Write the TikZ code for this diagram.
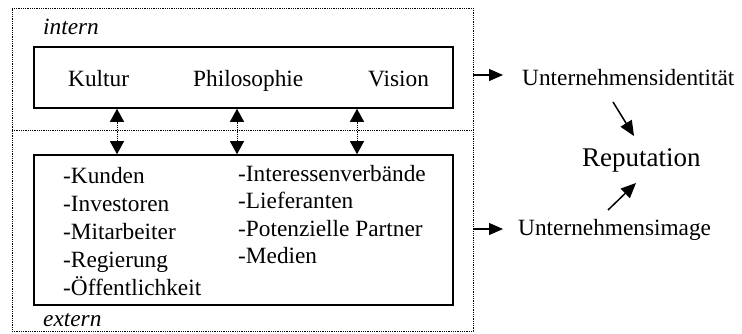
\documentclass[tikz,border=0pt]{standalone}
\usepackage{fontspec}
\setmainfont{Liberation Serif}
\usetikzlibrary{arrows.meta,calc}
\begin{document}
\begin{tikzpicture}[x=1pt,y=-1pt,
  txt/.style={anchor=base west,inner sep=0pt,font=\fontsize{23.3}{28}\selectfont},
  itxt/.style={txt,font=\fontsize{23.3}{28}\selectfont\itshape},
  reptxt/.style={anchor=base west,inner sep=0pt,font=\fontsize{27}{32}\selectfont},
  solidbox/.style={draw,line width=1.6pt,inner sep=0pt},
  dotline/.style={line width=0.9pt,dash pattern=on 1pt off 0.8pt},
  biarrow/.style={dotline,{Triangle[length=13pt,width=14pt]}-{Triangle[length=13pt,width=14pt]}},
  outarrow/.style={line width=1.2pt,-{Triangle[length=14pt,width=12pt]}},
  diagarrow/.style={line width=1.5pt,-{Triangle[length=15pt,width=13pt]}}]
\useasboundingbox (0,0) rectangle (742,333);
\fill[white] (0,0) rectangle (742,333);

% outer frame split into an inner and an outer half
\node[dotline,draw,minimum width=461pt,minimum height=323pt,inner sep=0pt] (outer) at (242.5,169.5) {};
\coordinate (divl) at (12,130);
\coordinate (divr) at (473,130);
\draw[dotline] (divl) -- (divr);

% boxes
\node[solidbox,minimum width=419pt,minimum height=61pt] (ubox) at (243.5,77.5) {};
\node[solidbox,minimum width=419pt,minimum height=150pt] (lbox) at (243.5,230) {};

% labels of the halves
\node[itxt] (intern) at (43,34) {intern};
\node[itxt] (extern) at (43,326.5) {extern};

% inner values
\node[txt] (kultur) at (68,86) {Kultur};
\node[txt] (philo) at (193,86) {Philosophie};
\node[txt] (vision) at (368,86) {Vision};

% stakeholders, two columns
\node[txt] (s1) at (63,183) {-Kunden};
\node[txt] (s2) at (63,211) {-Investoren};
\node[txt] (s3) at (63,239) {-Mitarbeiter};
\node[txt] (s4) at (63,267) {-Regierung};
\node[txt] (s5) at (63,295) {-Öffentlichkeit};
\node[txt] (t1) at (238,181) {-Interessenverbände};
\node[txt] (t2) at (238,208.5) {-Lieferanten};
\node[txt] (t3) at (238,236) {-Potenzielle Partner};
\node[txt] (t4) at (238,263.5) {-Medien};

% exchange between inside and outside
\coordinate (x1) at (117,0);
\coordinate (x2) at (237,0);
\coordinate (x3) at (357,0);
\draw[biarrow] (ubox.south -| x1) -- (lbox.north -| x1);
\draw[biarrow] (ubox.south -| x2) -- (lbox.north -| x2);
\draw[biarrow] (ubox.south -| x3) -- (lbox.north -| x3);

% results on the right
\node[txt] (ident) at (522,85) {Unternehmensidentität};
\node[txt] (image) at (518,235) {Unternehmensimage};
\node[reptxt] (rep) at (582,166) {Reputation};

\coordinate (ya) at (0,75);
\coordinate (yb) at (0,229);
\coordinate (ea) at (503,75);
\coordinate (eb) at (503,229);
\draw[outarrow] (outer.east |- ya) -- (ea);
\draw[outarrow] (outer.east |- yb) -- (eb);

\coordinate (d1s) at (613,102);
\coordinate (d1e) at (634,136);
\coordinate (d2s) at (608,210);
\coordinate (d2e) at (636,183);
\draw[diagarrow] (d1s) -- (d1e);
\draw[diagarrow] (d2s) -- (d2e);
\end{tikzpicture}
\end{document}
